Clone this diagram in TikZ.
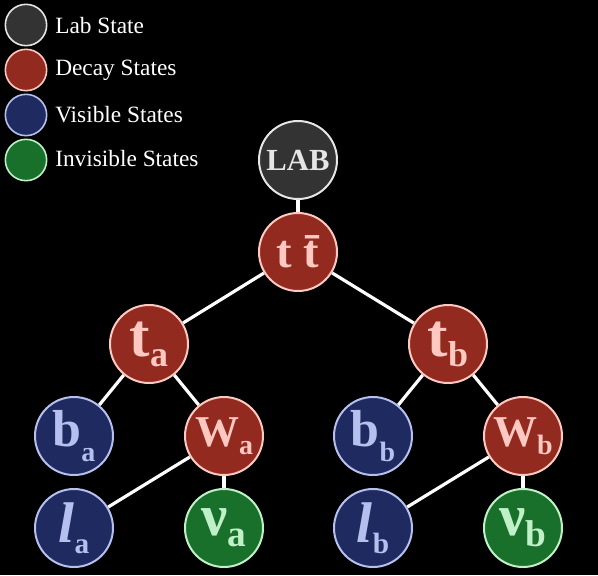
\documentclass[tikz,border=0pt]{standalone}
\usepackage{fontspec}
\setmainfont{Liberation Serif}
\usetikzlibrary{backgrounds}
\definecolor{labfill}{HTML}{333333}
\definecolor{labline}{HTML}{E6E6E6}
\definecolor{decfill}{HTML}{922A1F}
\definecolor{decline}{HTML}{FFC8C0}
\definecolor{visfill}{HTML}{1E2A60}
\definecolor{visline}{HTML}{B6C0EE}
\definecolor{invfill}{HTML}{18702B}
\definecolor{invline}{HTML}{C0F0C8}
\newcommand\stname[5]{{\fontsize{#1}{#1}\selectfont #2}\raisebox{-#5}{\fontsize{#3}{#3}\selectfont #4}}
\tikzset{
  state/.style={circle, line width=1.5pt, minimum size=58.5pt, inner sep=0pt, font=\bfseries},
  labst/.style={state, fill=labfill, draw=labline, text=labline},
  decst/.style={state, fill=decfill, draw=decline, text=decline},
  visst/.style={state, fill=visfill, draw=visline, text=visline},
  invst/.style={state, fill=invfill, draw=invline, text=invline},
  keydot/.style={circle, line width=1.2pt, minimum size=31pt, inner sep=0pt},
  keytext/.style={anchor=west, text=white, inner sep=0pt, font=\fontsize{17.5pt}{20pt}\selectfont},
  link/.style={draw=white, line width=2.4pt}
}
\begin{document}
\begin{tikzpicture}[x=0.75pt, y=-0.75pt]
  % legend
  \node[keydot, fill=labfill, draw=labline] (k1) at (26,25) {};
  \node[keydot, fill=decfill, draw=decline] (k2) at (26,70) {};
  \node[keydot, fill=visfill, draw=visline] (k3) at (26,115) {};
  \node[keydot, fill=invfill, draw=invline] (k4) at (26,160) {};
  \node[keytext] (t1) at (55,26) {Lab State};
  \node[keytext] (t2) at (55,70) {Decay States};
  \node[keytext] (t3) at (55,115) {Visible States};
  \node[keytext] (t4) at (55,159) {Invisible States};
  % tree
  \node[labst] (lab) at (298,160) {\fontsize{23pt}{23pt}\selectfont LAB};
  \node[decst] (tt) at (298,252) {\fontsize{35pt}{35pt}\selectfont t \={t}};
  \node[decst] (ta) at (149,344) {\stname{46pt}{t}{27pt}{a}{7.5pt}};
  \node[decst] (tb) at (448,344) {\stname{46pt}{t}{27pt}{b}{7.5pt}};
  \node[visst] (ba) at (74,436) {\stname{39pt}{b}{21pt}{a}{11pt}};
  \node[decst] (wa) at (224,436) {\stname{33pt}{W}{21pt}{a}{6pt}};
  \node[visst] (bb) at (373,436) {\stname{39pt}{b}{21pt}{b}{11pt}};
  \node[decst] (wb) at (523,436) {\stname{33pt}{W}{21pt}{b}{6pt}};
  \node[visst] (la) at (74,528) {\stname{43pt}{\itshape l}{22pt}{a}{8pt}};
  \node[invst] (na) at (224,528) {\stname{44pt}{ν}{28pt}{a}{8pt}};
  \node[visst] (lb) at (373,528) {\stname{43pt}{\itshape l}{22pt}{b}{8pt}};
  \node[invst] (nb) at (523,528) {\stname{44pt}{ν}{28pt}{b}{8pt}};
  \begin{scope}[on background layer]
    \fill[black] (0,0) rectangle (598,575);
    \draw[link] (lab) -- (tt);
    \draw[link] (tt) -- (ta);
    \draw[link] (tt) -- (tb);
    \draw[link] (ta) -- (ba);
    \draw[link] (ta) -- (wa);
    \draw[link] (tb) -- (bb);
    \draw[link] (tb) -- (wb);
    \draw[link] (wa) -- (la);
    \draw[link] (wa) -- (na);
    \draw[link] (wb) -- (lb);
    \draw[link] (wb) -- (nb);
  \end{scope}
\end{tikzpicture}
\end{document}
